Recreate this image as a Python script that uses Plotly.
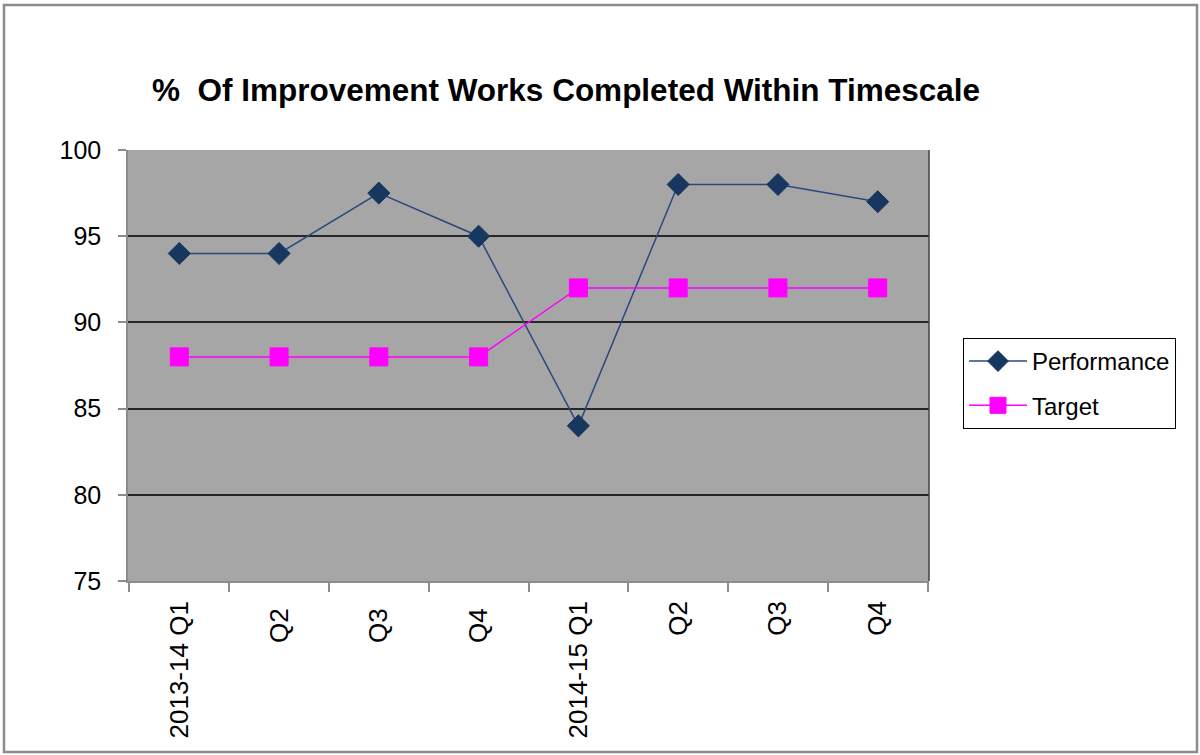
import plotly.graph_objects as go

# Quarterly categories and series values
quarters = ["2013-14 Q1", "Q2 ", "Q3 ", "Q4 ", "2014-15 Q1", "Q2", "Q3", "Q4"]
performance = [94, 94, 97.5, 95, 84, 98, 98, 97]
target = [88, 88, 88, 88, 92, 92, 92, 92]

W, H = 1200, 755
L, R, T, B = 128, 271, 150, 174
pw, ph = W - L - R, H - T - B

def px_x(x):
    return (x - L) / pw

def px_y(y):
    return (H - B - y) / ph

fig = go.Figure()
fig.add_trace(go.Scatter(
    x=quarters, y=performance, name="Performance", mode="lines+markers",
    legendgroup="perf",
    line=dict(color="#2a4a7f", width=1.5),
    marker=dict(symbol="diamond", size=17, color="#17375e",
                line=dict(color="#17375e", width=1)),
))
fig.add_trace(go.Scatter(
    x=quarters, y=target, name="Target", mode="lines+markers",
    legendgroup="tgt",
    line=dict(color="#ff00ff", width=1.5),
    marker=dict(symbol="square", size=18, color="#ff00ff",
                line=dict(color="#ff00ff", width=1)),
))

fig.update_layout(
    width=W, height=H,
    margin=dict(l=L, r=R, t=T, b=B),
    paper_bgcolor="white",
    plot_bgcolor="#a6a6a6",
    font=dict(family="Liberation Sans, Arial, sans-serif", size=25, color="black"),
    title=dict(
        text="<b>%  Of Improvement Works Completed Within Timescale</b>",
        x=566 / W, xanchor="center", xref="container",
        y=1 - 90 / H, yanchor="middle", yref="container",
        font=dict(size=31.5, color="black"),
    ),
    showlegend=True,
    legend=dict(
        x=px_x(963), xanchor="left", y=px_y(338), yanchor="top",
        bordercolor="black", borderwidth=1, bgcolor="white",
        font=dict(size=24), itemwidth=58, tracegroupgap=10,
    ),
    xaxis=dict(
        type="category", tickangle=-90, tickson="boundaries",
        ticks="outside", ticklen=9, tickcolor="#8c8c8c", tickwidth=1.5,
        showline=True, linecolor="#8c8c8c", linewidth=1.5,
        showgrid=False, mirror=False, ticklabelstandoff=8,
        tickfont=dict(size=26),
    ),
    yaxis=dict(
        range=[75, 100], dtick=5, tick0=75,
        ticks="outside", ticklen=8, tickcolor="#8c8c8c", tickwidth=1.5,
        showline=True, linecolor="#8c8c8c", linewidth=1.5,
        showgrid=True, gridcolor="#262626", gridwidth=1.5,
        zeroline=False, ticklabelstandoff=12, tickfont=dict(size=25),
    ),
    shapes=[
        # right edge of the plot area
        dict(type="line", xref="paper", yref="paper", x0=1, x1=1, y0=0, y1=1,
             line=dict(color="#404040", width=1.5)),
        # outer chart frame
        dict(type="rect", xref="paper", yref="paper",
             x0=px_x(4), x1=px_x(1197), y0=px_y(752), y1=px_y(5),
             line=dict(color="#8c8c8c", width=2.5), layer="below"),
    ],
)

fig.write_html("out.html")
